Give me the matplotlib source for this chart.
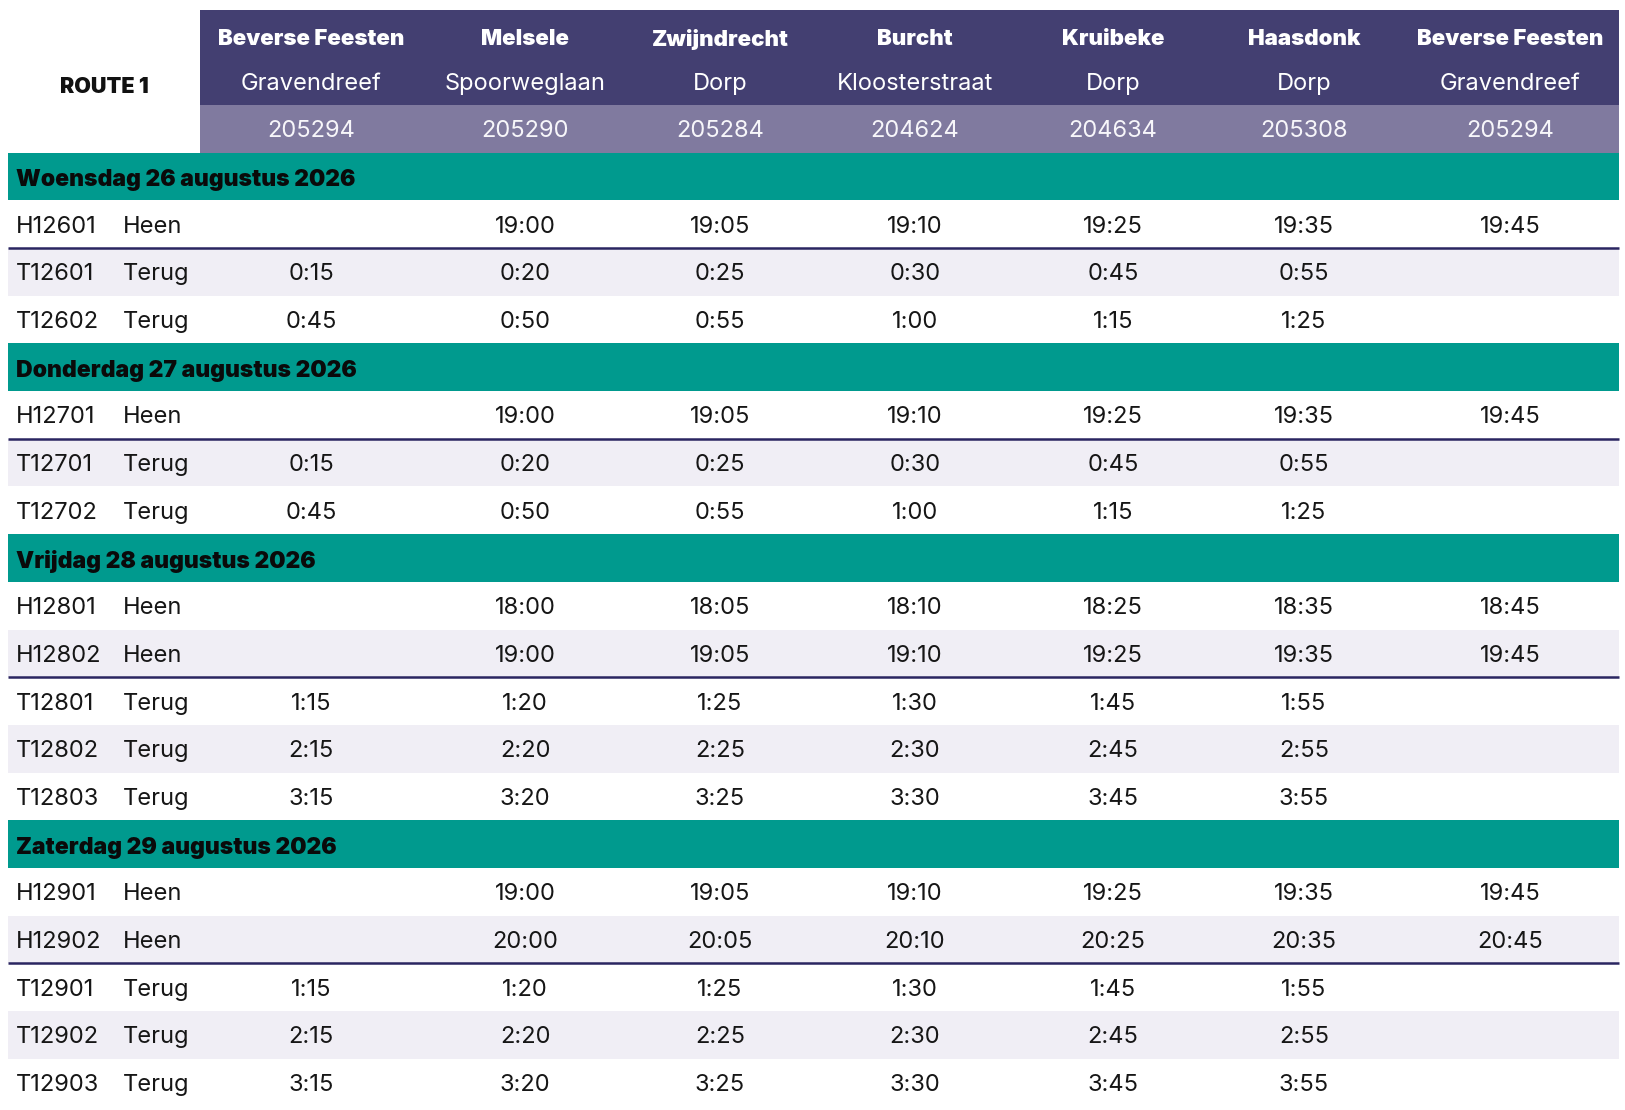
import matplotlib
matplotlib.use("Agg")
import matplotlib.pyplot as plt
from matplotlib.patches import Rectangle

# ---------------- data ----------------
route_title = "ROUTE 1"
stops = ["Beverse Feesten", "Melsele", "Zwijndrecht", "Burcht", "Kruibeke", "Haasdonk", "Beverse Feesten"]
streets = ["Gravendreef", "Spoorweglaan", "Dorp", "Kloosterstraat", "Dorp", "Dorp", "Gravendreef"]
codes = ["205294", "205290", "205284", "204624", "204634", "205308", "205294"]

days = ["Woensdag 26 augustus 2026", "Donderdag 27 augustus 2026",
        "Vrijdag 28 augustus 2026", "Zaterdag 29 augustus 2026"]

trip_ids = [
    ["H12601", "T12601", "T12602"],
    ["H12701", "T12701", "T12702"],
    ["H12801", "H12802", "T12801", "T12802", "T12803"],
    ["H12901", "H12902", "T12901", "T12902", "T12903"],
]
trip_dirs = [
    ["Heen", "Terug", "Terug"],
    ["Heen", "Terug", "Terug"],
    ["Heen", "Heen", "Terug", "Terug", "Terug"],
    ["Heen", "Heen", "Terug", "Terug", "Terug"],
]
trip_times = [
    [["", "19:00", "19:05", "19:10", "19:25", "19:35", "19:45"],
     ["0:15", "0:20", "0:25", "0:30", "0:45", "0:55", ""],
     ["0:45", "0:50", "0:55", "1:00", "1:15", "1:25", ""]],
    [["", "19:00", "19:05", "19:10", "19:25", "19:35", "19:45"],
     ["0:15", "0:20", "0:25", "0:30", "0:45", "0:55", ""],
     ["0:45", "0:50", "0:55", "1:00", "1:15", "1:25", ""]],
    [["", "18:00", "18:05", "18:10", "18:25", "18:35", "18:45"],
     ["", "19:00", "19:05", "19:10", "19:25", "19:35", "19:45"],
     ["1:15", "1:20", "1:25", "1:30", "1:45", "1:55", ""],
     ["2:15", "2:20", "2:25", "2:30", "2:45", "2:55", ""],
     ["3:15", "3:20", "3:25", "3:30", "3:45", "3:55", ""]],
    [["", "19:00", "19:05", "19:10", "19:25", "19:35", "19:45"],
     ["", "20:00", "20:05", "20:10", "20:25", "20:35", "20:45"],
     ["1:15", "1:20", "1:25", "1:30", "1:45", "1:55", ""],
     ["2:15", "2:20", "2:25", "2:30", "2:45", "2:55", ""],
     ["3:15", "3:20", "3:25", "3:30", "3:45", "3:55", ""]],
]

# ---------------- layout / style ----------------
W, H = 1625, 1110
DARK = "#433f71"
MID = "#807a9f"
TEAL = "#009a8e"
STRIPE = "#f0eef5"
LINE = "#2a2561"
TXT = "#161616"

plt.rcParams["font.family"] = ["Inter", "DejaVu Sans"]

fig = plt.figure(figsize=(W / 100, H / 100), dpi=100)
ax = fig.add_axes([0, 0, 1, 1])
ax.set_xlim(0, W)
ax.set_ylim(H, 0)
ax.axis("off")

left, right = 8, 1619
hdr_left = 200
top = 10
hdr_mid = 105
hdr_bot = 152.5
row_h = 47.7
col_x = [311, 525, 720, 915, 1113, 1304, 1510]
id_x = 16
dir_x = 123

# header
ax.add_patch(Rectangle((hdr_left, top), right - hdr_left, hdr_mid - top, color=DARK, lw=0))
ax.add_patch(Rectangle((hdr_left, hdr_mid), right - hdr_left, hdr_bot - hdr_mid, color=MID, lw=0))
ax.text(104, 87, route_title, ha="center", va="center", fontsize=15.5,
        fontweight="black", color="#111111")
for x, s, st, c in zip(col_x, stops, streets, codes):
    ax.text(x, 39, s, ha="center", va="center", fontsize=16, fontweight="black", color="white")
    ax.text(x, 84, st, ha="center", va="center", fontsize=17, fontweight="normal", color="white")
    ax.text(x, 131, c, ha="center", va="center", fontsize=17, fontweight="normal", color="#f7f6fa")

y = hdr_bot
for d, ids, dirs, times in zip(days, trip_ids, trip_dirs, trip_times):
    ax.add_patch(Rectangle((left, y), right - left, row_h, color=TEAL, lw=0))
    ax.text(id_x, y + row_h / 2 + 3.5, d, ha="left", va="center", fontsize=16.5,
            fontweight="black", color="#0a0a0a")
    y += row_h
    for i, (tid, dr, tms) in enumerate(zip(ids, dirs, times)):
        if i % 2 == 1:
            ax.add_patch(Rectangle((left, y), right - left, row_h, color=STRIPE, lw=0))
        cy = y + row_h / 2 + 2.5
        ax.text(id_x, cy, tid, ha="left", va="center", fontsize=17, color=TXT)
        ax.text(dir_x, cy, dr, ha="left", va="center", fontsize=17, color=TXT)
        for x, t in zip(col_x, tms):
            if t:
                ax.text(x, cy, t, ha="center", va="center", fontsize=17, color=TXT)
        y += row_h
        if dr == "Heen" and i + 1 < len(dirs) and dirs[i + 1] == "Terug":
            ax.plot([left, right], [y, y], color=LINE, lw=1.8, solid_capstyle="butt")

fig.savefig("out.png", dpi=100)
